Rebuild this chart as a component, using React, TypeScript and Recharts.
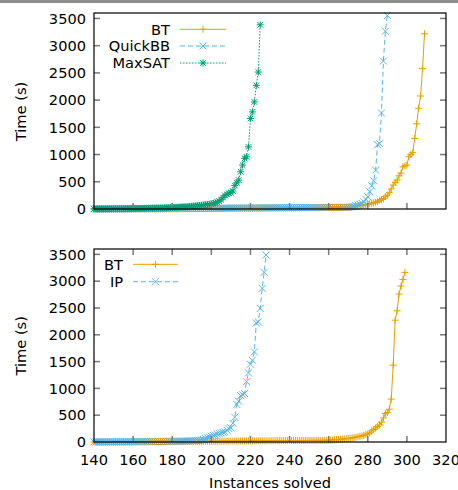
import React from 'react';
import { LineChart, Line, XAxis, YAxis } from 'recharts';

// ---------- data ----------
const FIRST_INSTANCE = 140;
const X_DOMAIN: [number, number] = [140, 320];
const Y_DOMAIN: [number, number] = [0, 3600];
const X_TICKS = [140, 160, 180, 200, 220, 240, 260, 280, 300, 320];
const Y_TICKS = [0, 500, 1000, 1500, 2000, 2500, 3000, 3500];

// Top panel: solve times (s) for instances 140, 141, ...
const btTopTimes = [
  1, 1, 1, 1, 1, 1, 1, 1, 1, 1, // 140
  1, 1, 1, 1, 1, 2, 2, 2, 2, 2, // 150
  2, 2, 2, 2, 2, 2, 2, 3, 3, 3, // 160
  3, 3, 3, 3, 3, 3, 4, 4, 4, 4, // 170
  4, 4, 4, 5, 5, 5, 5, 5, 6, 6, // 180
  6, 6, 6, 7, 7, 7, 7, 8, 8, 8, // 190
  8, 8, 9, 9, 9, 10, 10, 10, 11, 11, // 200
  11, 12, 12, 12, 13, 13, 13, 14, 14, 14, // 210
  15, 15, 15, 16, 16, 16, 17, 17, 17, 18, // 220
  18, 18, 19, 19, 19, 20, 20, 20, 21, 21, // 230
  21, 22, 22, 22, 23, 23, 23, 24, 24, 24, // 240
  25, 25, 25, 26, 26, 26, 26, 27, 27, 27, // 250
  27, 28, 28, 28, 28, 29, 29, 29, 29, 29, // 260
  30, 34, 40, 45, 50, 55, 60, 66, 73, 80, // 270
  88, 96, 105, 113, 122, 134, 160, 175, 189, 225, // 280
  256, 300, 370, 440, 489, 531, 610, 660, 775, 793, // 290
  806, 960, 1000, 1035, 1295, 1565, 1850, 2076, 2577, 3218, // 300
];

const quickbbTimes = [
  1, 1, 1, 1, 1, 2, 2, 2, 2, 2, // 140
  2, 2, 3, 3, 3, 3, 3, 3, 4, 4, // 150
  4, 4, 4, 4, 5, 5, 5, 5, 5, 6, // 160
  6, 6, 6, 6, 7, 7, 7, 7, 8, 8, // 170
  8, 8, 9, 9, 9, 9, 10, 10, 10, 10, // 180
  11, 11, 11, 12, 12, 12, 12, 13, 13, 13, // 190
  13, 14, 14, 14, 15, 15, 15, 16, 16, 16, // 200
  17, 17, 17, 17, 18, 18, 18, 19, 19, 19, // 210
  19, 20, 20, 20, 21, 21, 21, 21, 22, 22, // 220
  22, 22, 23, 23, 23, 23, 24, 24, 24, 24, // 230
  24, 25, 25, 25, 25, 26, 26, 26, 26, 27, // 240
  27, 27, 27, 27, 27, 28, 28, 28, 28, 28, // 250
  28, 28, 28, 28, 29, 29, 29, 29, 29, 29, // 260
  30, 35, 42, 50, 60, 72, 88, 105, 134, 180, // 270
  225, 317, 427, 518, 714, 1180, 1200, 1764, 2717, 3266, // 280
  3554, // 290
];

const maxsatTimes = [
  2, 2, 2, 3, 3, 3, 3, 4, 4, 4, // 140
  5, 5, 5, 6, 6, 6, 7, 7, 8, 8, // 150
  9, 9, 10, 10, 11, 12, 12, 13, 14, 15, // 160
  16, 17, 18, 19, 20, 21, 23, 24, 26, 28, // 170
  30, 31, 33, 35, 37, 39, 41, 43, 45, 48, // 180
  51, 54, 57, 60, 64, 68, 72, 77, 82, 88, // 190
  95, 103, 112, 125, 145, 170, 210, 250, 270, 290, // 200
  300, 330, 430, 480, 531, 683, 806, 930, 958, 1141, // 210
  1661, 1783, 1966, 2271, 2515, 3383, // 220
];

// Bottom panel
const btBottomTimes = [
  1, 1, 1, 1, 1, 1, 1, 1, 2, 2, // 140
  2, 2, 2, 2, 2, 2, 3, 3, 3, 3, // 150
  3, 3, 3, 4, 4, 4, 4, 4, 5, 5, // 160
  5, 5, 5, 6, 6, 6, 6, 7, 7, 7, // 170
  7, 8, 8, 8, 8, 9, 9, 9, 10, 10, // 180
  10, 10, 11, 11, 11, 12, 12, 12, 13, 13, // 190
  13, 14, 14, 14, 15, 15, 15, 16, 16, 16, // 200
  17, 17, 17, 18, 18, 18, 19, 19, 19, 20, // 210
  20, 20, 21, 21, 21, 22, 22, 22, 23, 23, // 220
  23, 24, 24, 24, 25, 25, 25, 25, 26, 26, // 230
  26, 26, 27, 27, 27, 27, 28, 28, 28, 28, // 240
  29, 29, 29, 29, 30, 30, 30, 31, 31, 32, // 250
  33, 35, 38, 41, 44, 47, 50, 55, 58, 61, // 260
  65, 70, 75, 83, 90, 98, 106, 115, 125, 138, // 270
  150, 170, 205, 230, 260, 290, 320, 370, 450, 530, // 280
  549, 611, 800, 1433, 2273, 2447, 2759, 2908, 3033, 3164, // 290
];

const ipTimes = [
  1, 1, 1, 1, 2, 2, 2, 2, 2, 3, // 140
  3, 3, 3, 3, 4, 4, 4, 4, 5, 5, // 150
  5, 5, 6, 6, 6, 7, 7, 7, 8, 8, // 160
  8, 9, 9, 10, 10, 11, 11, 12, 12, 13, // 170
  13, 14, 14, 15, 15, 16, 17, 18, 19, 20, // 180
  21, 22, 24, 27, 32, 40, 50, 63, 80, 95, // 190
  110, 120, 130, 150, 160, 170, 180, 190, 220, 250, // 200
  265, 350, 460, 700, 760, 865, 880, 904, 1125, 1289, // 210
  1451, 1526, 1681, 2220, 2241, 2491, 2865, 3164, 3487, // 220
];

const ORANGE = '#E69F00';
const SKY = '#56B4E9';
const GREEN = '#009E73';

type MarkerKind = 'plus' | 'cross' | 'star';
type Series = { name: string; times: number[]; color: string; dash?: string; marker: MarkerKind };

const topSeries: Series[] = [
  { name: 'BT', times: btTopTimes, color: ORANGE, marker: 'plus' },
  { name: 'QuickBB', times: quickbbTimes, color: SKY, dash: '5 3', marker: 'cross' },
  { name: 'MaxSAT', times: maxsatTimes, color: GREEN, dash: '1.5 1.5', marker: 'star' },
];
const bottomSeries: Series[] = [
  { name: 'BT', times: btBottomTimes, color: ORANGE, marker: 'plus' },
  { name: 'IP', times: ipTimes, color: SKY, dash: '5 3', marker: 'cross' },
];

const toPoints = (times: number[]) => times.map((t, i) => ({ n: FIRST_INSTANCE + i, t }));

// ---------- layout ----------
const W = 458;
const PLOT_L = 94;
const PLOT_R = 446;
const FONT = "'DejaVu Sans', sans-serif";
const FS = 14.6;
const TICK_LEN = 6;
const TICK_COLOR = '#7a7a7a';
const XAXIS_H = 30;

function Marker({ kind, cx, cy, color }: { kind: MarkerKind; cx: number; cy: number; color: string }) {
  const s = 3.5;
  const parts: React.ReactNode[] = [];
  if (kind === 'plus' || kind === 'star') {
    parts.push(<line key="h" x1={cx - s} y1={cy} x2={cx + s} y2={cy} />);
    parts.push(<line key="v" x1={cx} y1={cy - s} x2={cx} y2={cy + s} />);
  }
  if (kind === 'cross' || kind === 'star') {
    const d = kind === 'star' ? s * 0.8 : s;
    parts.push(<line key="d1" x1={cx - d} y1={cy - d} x2={cx + d} y2={cy + d} />);
    parts.push(<line key="d2" x1={cx - d} y1={cy + d} x2={cx + d} y2={cy - d} />);
  }
  return (
    <g stroke={color} strokeWidth={1} fill="none">
      {parts}
    </g>
  );
}

type PanelProps = {
  top: number;
  height: number;
  plotTop: number;
  plotBottom: number;
  series: Series[];
  xLabels: boolean;
  topTicks: boolean;
};

function Panel({ top, height, plotTop, plotBottom, series, xLabels, topTicks }: PanelProps) {
  const mTop = plotTop - top;
  const localBottom = plotBottom - top;
  const mBottom = height - localBottom - XAXIS_H;

  const YTick = (props: any) => {
    const { y, payload } = props;
    const v = payload.value;
    return (
      <g>
        <text x={PLOT_L - 8} y={y + 5.3} textAnchor="end" fontSize={FS} fontFamily={FONT} fill="#000">
          {v}
        </text>
        {v !== 0 && (
          <g stroke={TICK_COLOR} strokeWidth={1.5}>
            <line x1={PLOT_L} x2={PLOT_L + TICK_LEN} y1={y} y2={y} />
            <line x1={PLOT_R} x2={PLOT_R - TICK_LEN} y1={y} y2={y} />
          </g>
        )}
      </g>
    );
  };

  const XTick = (props: any) => {
    const { x, payload } = props;
    const v = payload.value;
    const inner = v !== X_DOMAIN[0] && v !== X_DOMAIN[1];
    return (
      <g>
        {xLabels && (
          <text x={x} y={localBottom + 17.8 + 5.3} textAnchor="middle" fontSize={FS} fontFamily={FONT} fill="#000">
            {v}
          </text>
        )}
        {inner && (
          <g stroke={TICK_COLOR} strokeWidth={1.5}>
            <line x1={x} x2={x} y1={localBottom} y2={localBottom - TICK_LEN} />
            {topTicks && <line x1={x} x2={x} y1={mTop} y2={mTop + TICK_LEN} />}
          </g>
        )}
      </g>
    );
  };

  return (
    <div style={{ position: 'absolute', left: 0, top, width: W, height }}>
      <LineChart width={W} height={height} margin={{ top: mTop, right: W - PLOT_R, bottom: mBottom, left: 0 }}>
        <XAxis
          type="number"
          dataKey="n"
          domain={X_DOMAIN}
          ticks={X_TICKS}
          interval={0}
          height={XAXIS_H}
          axisLine={false}
          tickLine={false}
          tick={XTick}
        />
        <YAxis
          type="number"
          domain={Y_DOMAIN}
          ticks={Y_TICKS}
          interval={0}
          width={PLOT_L}
          axisLine={false}
          tickLine={false}
          tick={YTick}
        />
        {series.map((s) => (
          <Line
            key={s.name}
            data={toPoints(s.times)}
            dataKey="t"
            name={s.name}
            type="linear"
            stroke={s.color}
            strokeWidth={1}
            strokeDasharray={s.dash}
            dot={(p: any) => <Marker key={`m${p.index}`} kind={s.marker} cx={p.cx} cy={p.cy} color={s.color} />}
            activeDot={false}
            isAnimationActive={false}
          />
        ))}
      </LineChart>
    </div>
  );
}

function LegendBlock({ series, textRight, lineL, lineR, rows }: { series: Series[]; textRight: number; lineL: number; lineR: number; rows: number[] }) {
  return (
    <g>
      {series.map((s, i) => (
        <g key={s.name}>
          <text x={textRight} y={rows[i] + 5.3} textAnchor="end" fontSize={FS} fontFamily={FONT} fill="#000">
            {s.name}
          </text>
          <line x1={lineL} x2={lineR} y1={rows[i]} y2={rows[i]} stroke={s.color} strokeWidth={1} strokeDasharray={s.dash} />
          <Marker kind={s.marker} cx={(lineL + lineR) / 2} cy={rows[i]} color={s.color} />
        </g>
      ))}
    </g>
  );
}

export default function App() {
  const TOP = { top: 0, height: 240, plotTop: 13, plotBottom: 209 };
  const BOT = { top: 240, height: 250, plotTop: 249, plotBottom: 442 };
  return (
    <div style={{ position: 'absolute', left: 0, top: 0, width: W, height: 490, background: '#fff', overflow: 'hidden' }}>
      <div style={{ position: 'absolute', left: 0, top: 0, width: W, height: 3, background: '#8c8c8c' }} />
      <Panel {...TOP} series={topSeries} xLabels={false} topTicks={false} />
      <Panel {...BOT} series={bottomSeries} xLabels={true} topTicks={true} />
      <svg width={W} height={490} style={{ position: 'absolute', left: 0, top: 0, pointerEvents: 'none' }}>
        <rect x={PLOT_L} y={TOP.plotTop} width={PLOT_R - PLOT_L} height={TOP.plotBottom - TOP.plotTop} fill="none" stroke="#000" strokeWidth={1.2} />
        <rect x={PLOT_L} y={BOT.plotTop} width={PLOT_R - PLOT_L} height={BOT.plotBottom - BOT.plotTop} fill="none" stroke="#000" strokeWidth={1.2} />
        <LegendBlock series={topSeries} textRight={170} lineL={180} lineR={226} rows={[29.3, 46, 63]} />
        <LegendBlock series={bottomSeries} textRight={123} lineL={133} lineR={178} rows={[264.3, 281.7]} />
        <text transform="translate(25.6,111.5) rotate(-90)" textAnchor="middle" fontSize={FS} fontFamily={FONT} fill="#000">
          Time (s)
        </text>
        <text transform="translate(25.6,345.8) rotate(-90)" textAnchor="middle" fontSize={FS} fontFamily={FONT} fill="#000">
          Time (s)
        </text>
        <text x={270} y={488} textAnchor="middle" fontSize={FS} fontFamily={FONT} fill="#000">
          Instances solved
        </text>
      </svg>
    </div>
  );
}
